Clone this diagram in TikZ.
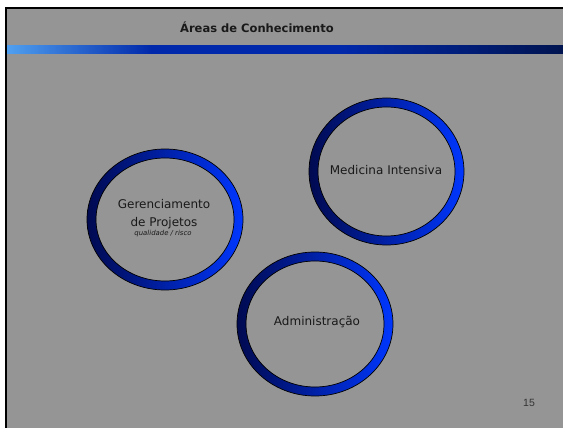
\documentclass[tikz,border=0pt]{standalone}
\usepackage{fontspec}
\setmainfont{DejaVu Sans}
\newfontfamily\numfont{Liberation Sans}
\definecolor{slidegray}{RGB}{149,149,149}
\definecolor{ringdark}{RGB}{0,10,80}
\definecolor{ringlight}{RGB}{0,55,255}
\definecolor{txt}{RGB}{25,25,25}
\definecolor{barA}{RGB}{80,160,240}
\definecolor{barB}{RGB}{0,40,170}
\definecolor{barC}{RGB}{0,20,80}
\pgfdeclarehorizontalshading{barshade}{100bp}{color(0bp)=(barA); color(25bp)=(barA); color(38bp)=(barB); color(55bp)=(barB); color(75bp)=(barC); color(100bp)=(barC)}
\tikzset{
  ringshade/.style={left color=ringdark, right color=ringlight, even odd rule},
  ringline/.style={draw=black, line width=0.7pt},
  lbl/.style={text=txt, inner sep=0pt, anchor=base, font=\fontsize{12}{14}\selectfont},
}
\newcommand{\myring}[4]{% x y rx ry
  \shade[ringshade] (#1,#2) ellipse [x radius=#3pt, y radius=#4pt]
        (#1,#2) ellipse [x radius=#3pt-9pt, y radius=#4pt-9pt];
  \draw[ringline] (#1,#2) ellipse [x radius=#3pt, y radius=#4pt];
  \draw[ringline] (#1,#2) ellipse [x radius=#3pt-9pt, y radius=#4pt-9pt];
}
\begin{document}
\begin{tikzpicture}[x=1pt,y=-1pt]
\useasboundingbox (0,0) rectangle (563,428);
\fill[white] (0,0) rectangle (563,428);
\fill[slidegray] (7,9) rectangle (563,428);
\fill[black] (5,7) rectangle (563,9);
\fill[black] (5,7) rectangle (7,428);
\shade[shading=barshade] (7,46) rectangle (563,54);
\node[lbl, font=\fontsize{11.5}{13}\selectfont\bfseries] (title) at (257,33) {Áreas de Conhecimento};
\myring{165}{219.5}{78}{70.5}
\myring{386.5}{171.5}{77.5}{73.5}
\myring{315}{324}{78}{72}
\node[lbl] (g1) at (164,208) {Gerenciamento};
\node[lbl] (g2) at (164,226) {de Projetos};
\node[lbl, font=\fontsize{6.9}{8}\selectfont\itshape] (g3) at (163,235) {qualidade / risco};
\node[lbl] (med) at (386,175) {Medicina Intensiva};
\node[lbl] (adm) at (317,325) {Administração};
\node[lbl, text=black!80, font=\fontsize{10.5}{12}\selectfont\numfont] (num) at (529,406) {15};
\end{tikzpicture}
\end{document}
